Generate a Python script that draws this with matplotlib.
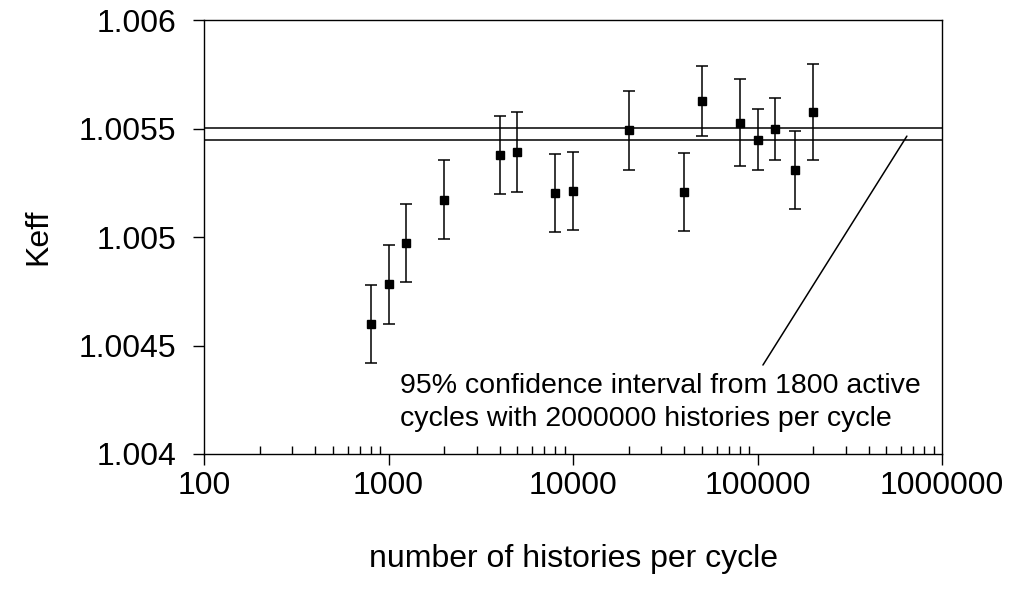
import numpy as np
import matplotlib
matplotlib.use("Agg")
import matplotlib.pyplot as plt
from matplotlib.ticker import LogLocator, FixedLocator, NullFormatter, FuncFormatter

plt.rcParams['font.family'] = ['Liberation Sans', 'DejaVu Sans']

# histories per cycle
histories = [800, 1000, 1250, 2000, 4000, 5000, 8000, 10000,
             20000, 40000, 50000, 80000, 100000, 125000, 160000, 200000]
keff = [1.004600, 1.004782, 1.004971, 1.005172, 1.005379, 1.005392, 1.005203, 1.005211,
        1.005493, 1.005209, 1.005625, 1.005527, 1.005448, 1.005499, 1.005310, 1.005577]
keff_err = [0.000179, 0.000182, 0.000180, 0.000183, 0.000180, 0.000183, 0.000178, 0.000179,
            0.000182, 0.000180, 0.000161, 0.000201, 0.000141, 0.000142, 0.000180, 0.000221]

# reference confidence interval (1800 active cycles, 2e6 histories)
ci_upper = 1.005504
ci_lower = 1.005446

y_ticks = [1.004, 1.0045, 1.005, 1.0055, 1.006]
y_tick_labels = ["1.004", "1.0045", "1.005", "1.0055", "1.006"]
x_ticks = [100, 1000, 10000, 100000, 1000000]

note = "95% confidence interval from 1800 active\ncycles with 2000000 histories per cycle"
# leader line from the CI lines down to the note
leader_from = (645000, 1.005465)
leader_to = (107000, 1.00441)


def main():
    fig = plt.figure(figsize=(10.10, 5.94), dpi=100)
    ax = fig.add_axes([0.202, 0.2357, 0.7307, 0.7306])

    ax.axhline(ci_upper, color="black", lw=1.1)
    ax.axhline(ci_lower, color="black", lw=1.1)

    ax.errorbar(histories, keff, yerr=keff_err, fmt="s", color="black",
                ms=6.2, ecolor="black", elinewidth=1.1, capsize=4.5, capthick=1.1)

    ax.set_xscale("log")
    ax.set_xlim(100, 1000000)
    ax.set_ylim(1.004, 1.006)

    ax.xaxis.set_major_locator(FixedLocator(x_ticks))
    ax.xaxis.set_major_formatter(FuncFormatter(lambda v, p: "%d" % round(v)))
    ax.xaxis.set_minor_locator(LogLocator(base=10, subs=np.arange(2, 10)))
    ax.xaxis.set_minor_formatter(NullFormatter())
    ax.set_yticks(y_ticks)
    ax.set_yticklabels(y_tick_labels)

    ax.tick_params(axis="both", which="major", direction="out", length=8, width=1.0,
                   labelsize=23)
    ax.tick_params(axis="y", which="major", pad=12)
    ax.tick_params(axis="x", which="major", pad=4)
    ax.tick_params(axis="x", which="minor", direction="in", length=5.5, width=1.0)
    ax.tick_params(axis="y", which="minor", left=False)

    for s in ax.spines.values():
        s.set_linewidth(1.0)

    ax.set_xlabel("number of histories per cycle", fontsize=23, labelpad=31)
    ax.set_ylabel("Keff", fontsize=23, labelpad=18)

    ax.annotate("", xy=leader_from, xytext=leader_to,
                arrowprops=dict(arrowstyle="-", color="black", lw=1.1,
                                shrinkA=0, shrinkB=0))
    ax.text(0.2656, 0.187, note, transform=ax.transAxes, fontsize=20.5,
            ha="left", va="top", linespacing=1.35)

    fig.savefig("out.png", dpi=100)


if __name__ == "__main__":
    main()
